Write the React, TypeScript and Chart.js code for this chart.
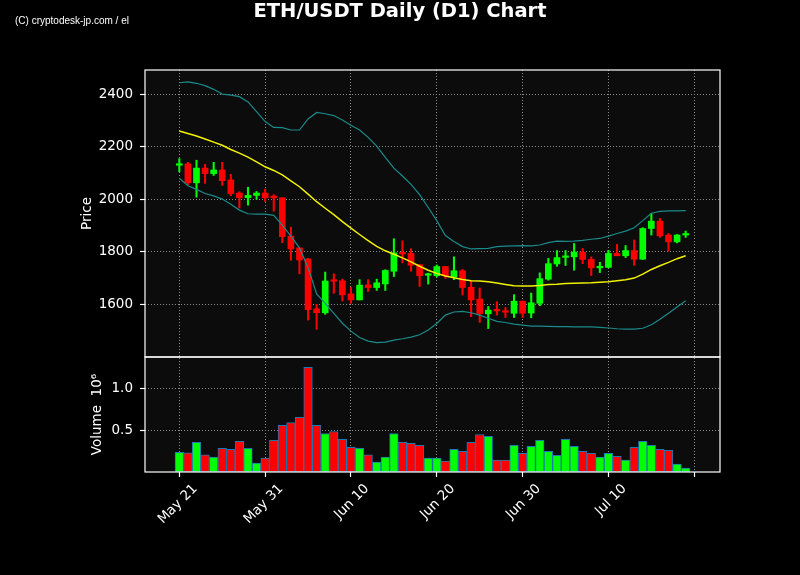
import React, { useEffect, useRef } from "react";
import { Chart, registerables } from "chart.js";

Chart.register(...registerables);

// ---------- data ----------
const dates = [
  "May 21", "May 22", "May 23", "May 24", "May 25", "May 26", "May 27", "May 28", "May 29", "May 30", "May 31",
  "Jun 1", "Jun 2", "Jun 3", "Jun 4", "Jun 5", "Jun 6", "Jun 7", "Jun 8", "Jun 9", "Jun 10",
  "Jun 11", "Jun 12", "Jun 13", "Jun 14", "Jun 15", "Jun 16", "Jun 17", "Jun 18", "Jun 19", "Jun 20",
  "Jun 21", "Jun 22", "Jun 23", "Jun 24", "Jun 25", "Jun 26", "Jun 27", "Jun 28", "Jun 29", "Jun 30",
  "Jul 1", "Jul 2", "Jul 3", "Jul 4", "Jul 5", "Jul 6", "Jul 7", "Jul 8", "Jul 9", "Jul 10",
  "Jul 11", "Jul 12", "Jul 13", "Jul 14", "Jul 15", "Jul 16", "Jul 17", "Jul 18", "Jul 19",
];

const opens = [
  2130, 2135, 2063, 2119, 2098, 2112, 2074, 2024, 2006, 2015, 2024,
  2010, 2006, 1860, 1815, 1773, 1583, 1568, 1690, 1690, 1640,
  1617, 1674, 1664, 1678, 1726, 1798, 1794, 1751, 1711, 1709,
  1744, 1704, 1728, 1665, 1620, 1564, 1580, 1574, 1566, 1612,
  1567, 1604, 1696, 1754, 1779, 1781, 1799, 1771, 1739, 1741,
  1794, 1785, 1805, 1772, 1889, 1917, 1864, 1838, 1864,
];
const highs = [
  2155, 2141, 2149, 2133, 2141, 2141, 2095, 2029, 2046, 2030, 2039,
  2018, 2006, 1894, 1815, 1775, 1600, 1723, 1716, 1696, 1665,
  1694, 1694, 1696, 1732, 1850, 1842, 1812, 1752, 1719, 1750,
  1744, 1781, 1733, 1690, 1662, 1592, 1610, 1588, 1637, 1613,
  1643, 1720, 1775, 1805, 1805, 1832, 1813, 1781, 1760, 1806,
  1828, 1824, 1845, 1892, 1946, 1927, 1870, 1866, 1879,
];
const lows = [
  2105, 2056, 2008, 2061, 2091, 2053, 2014, 1967, 1978, 2000, 1992,
  1955, 1835, 1768, 1716, 1540, 1505, 1562, 1642, 1613, 1604,
  1617, 1649, 1653, 1653, 1706, 1758, 1726, 1668, 1677, 1704,
  1699, 1694, 1636, 1553, 1531, 1508, 1559, 1550, 1550, 1550,
  1549, 1595, 1692, 1745, 1748, 1730, 1755, 1710, 1721, 1739,
  1785, 1778, 1749, 1771, 1864, 1855, 1803, 1834, 1855,
];
const closes = [
  2134, 2063, 2119, 2098, 2112, 2071, 2022, 2006, 2015, 2024, 2006,
  2006, 1858, 1811, 1769, 1580, 1568, 1689, 1688, 1636, 1617,
  1673, 1664, 1682, 1729, 1796, 1792, 1749, 1709, 1714, 1744,
  1709, 1728, 1664, 1617, 1565, 1578, 1575, 1570, 1612, 1566,
  1606, 1698, 1755, 1778, 1782, 1799, 1771, 1739, 1745, 1794,
  1785, 1805, 1772, 1889, 1917, 1861, 1838, 1864, 1868,
];
// volume in units of 10^6
const volumes = [
  0.238, 0.230, 0.357, 0.206, 0.179, 0.286, 0.274, 0.369, 0.286, 0.107, 0.167,
  0.381, 0.563, 0.595, 0.659, 1.262, 0.563, 0.464, 0.488, 0.393, 0.298,
  0.286, 0.206, 0.119, 0.179, 0.464, 0.357, 0.345, 0.321, 0.167, 0.167,
  0.131, 0.274, 0.250, 0.357, 0.452, 0.429, 0.143, 0.143, 0.321, 0.226,
  0.310, 0.381, 0.250, 0.202, 0.393, 0.310, 0.250, 0.226, 0.179, 0.226,
  0.190, 0.143, 0.298, 0.369, 0.321, 0.274, 0.262, 0.095, 0.048,
];
const bbUpper = [
  2444, 2447, 2442, 2433, 2419, 2401, 2397, 2391, 2371, 2334, 2296,
  2274, 2273, 2264, 2264, 2306, 2331, 2326, 2319, 2302, 2282,
  2264, 2236, 2203, 2160, 2119, 2089, 2057, 2018, 1969, 1919,
  1862, 1839, 1820, 1811, 1812, 1813, 1820, 1822, 1823, 1824,
  1823, 1826, 1835, 1841, 1840, 1841, 1844, 1848, 1851, 1860,
  1870, 1879, 1892, 1919, 1947, 1954, 1956, 1956, 1957,
];
const bbMiddle = [
  2260, 2251, 2241, 2230, 2218, 2206, 2190, 2176, 2161, 2143, 2124,
  2110, 2093, 2070, 2048, 2020, 1991, 1966, 1942, 1915, 1890,
  1866, 1843, 1821, 1804, 1791, 1777, 1762, 1745, 1730, 1718,
  1708, 1701, 1695, 1690, 1689, 1686, 1681, 1676, 1671, 1670,
  1670, 1672, 1676, 1677, 1679, 1680, 1681, 1682, 1684, 1686,
  1690, 1694, 1700, 1715, 1733, 1747, 1760, 1774, 1785,
];
const bbLower = [
  2080, 2052, 2038, 2022, 2013, 2001, 1981, 1959, 1945, 1944, 1944,
  1939, 1902, 1860, 1815, 1740, 1640, 1604, 1566, 1528, 1498,
  1474, 1460, 1454, 1456, 1464, 1469, 1475, 1484, 1502, 1527,
  1559, 1571, 1573, 1568, 1559, 1547, 1535, 1531, 1525, 1521,
  1517, 1517, 1516, 1515, 1515, 1514, 1514, 1514, 1512, 1510,
  1507, 1506, 1506, 1509, 1522, 1543, 1566, 1590, 1614,
];

const xTickValues = [0, 10, 20, 30, 40, 50, 60];
const xTickLabels = ["May 21", "May 31", "Jun 10", "Jun 20", "Jun 30", "Jul 10", ""];
const priceTicks = [1600, 1800, 2000, 2200, 2400];
const volumeTicks = [0.5, 1.0];

// ---------- style ----------
const FONT = "'DejaVu Sans', sans-serif";
const UP = "#00ff00";
const DOWN = "#ff0000";
const TEAL = "#1b8a8a";
const YELLOW = "#f2f200";
const GRID = "#8c8c8c";
const PANEL_BG = "#0c0c0c";

const panelPlugin = {
  id: "panels",
  beforeDraw(chart: any) {
    const { ctx, width, height, chartArea } = chart;
    ctx.save();
    ctx.fillStyle = "#000";
    ctx.fillRect(0, 0, width, height);
    ctx.fillStyle = PANEL_BG;
    ctx.fillRect(chartArea.left, chartArea.top, chartArea.right - chartArea.left, chartArea.bottom - chartArea.top);
    ctx.restore();
  },
  afterDraw(chart: any) {
    const { ctx, chartArea } = chart;
    const py = chart.scales.y;
    const vy = chart.scales.yVol;
    ctx.save();
    ctx.strokeStyle = "#ffffff";
    ctx.lineWidth = 1.2;
    ctx.strokeRect(chartArea.left, py.top, chartArea.right - chartArea.left, py.bottom - py.top);
    ctx.strokeRect(chartArea.left, vy.top, chartArea.right - chartArea.left, vy.bottom - vy.top);
    ctx.restore();
  },
};

export default function App() {
  const canvasRef = useRef<HTMLCanvasElement | null>(null);

  useEffect(() => {
    document.body.style.margin = "0";
    document.body.style.background = "#000";
    const canvas = canvasRef.current;
    if (!canvas) return;

    const idx = dates.map((_, i) => i);
    const colors = idx.map((i) => (closes[i] >= opens[i] ? UP : DOWN));

    const tickFont = { family: FONT, size: 13.5 };
    const gridOpts = {
      color: GRID,
      lineWidth: 1,
      offset: false,
      drawTicks: true,
      tickLength: 5,
      tickColor: "#ffffff",
      tickWidth: 1.2,
      tickBorderDash: [],
    };

    const chart = new Chart(canvas, {
      type: "bar",
      data: {
        datasets: [
          {
            type: "line",
            label: "BB Upper",
            data: idx.map((i) => ({ x: i, y: bbUpper[i] })),
            borderColor: TEAL,
            borderWidth: 1.2,
            pointRadius: 0,
            yAxisID: "y",
            order: 0,
          },
          {
            type: "line",
            label: "BB Lower",
            data: idx.map((i) => ({ x: i, y: bbLower[i] })),
            borderColor: TEAL,
            borderWidth: 1.2,
            pointRadius: 0,
            yAxisID: "y",
            order: 0,
          },
          {
            type: "line",
            label: "SMA 20",
            data: idx.map((i) => ({ x: i, y: bbMiddle[i] })),
            borderColor: YELLOW,
            borderWidth: 1.5,
            pointRadius: 0,
            yAxisID: "y",
            order: 0,
          },
          {
            type: "bar",
            label: "Body",
            data: idx.map((i) => ({ x: i, y: [opens[i], closes[i]] })),
            backgroundColor: colors,
            barThickness: 6,
            minBarLength: 1.5,
            grouped: false,
            yAxisID: "y",
            order: 1,
          },
          {
            type: "bar",
            label: "Wick",
            data: idx.map((i) => ({ x: i, y: [lows[i], highs[i]] })),
            backgroundColor: colors,
            barThickness: 1.4,
            grouped: false,
            yAxisID: "y",
            order: 2,
          },
          {
            type: "bar",
            label: "Volume",
            data: idx.map((i) => ({ x: i, y: volumes[i] })),
            backgroundColor: colors,
            borderColor: "#1f77b4",
            borderWidth: 1,
            borderSkipped: false,
            barPercentage: 1,
            categoryPercentage: 1,
            grouped: false,
            yAxisID: "yVol",
            order: 3,
          },
        ] as any,
      },
      options: {
        animation: false,
        responsive: false,
        events: [],
        layout: { padding: { top: 70, right: 80, bottom: 0, left: 0 } },
        plugins: {
          legend: { display: false },
          tooltip: { enabled: false },
          title: { display: false },
        },
        scales: {
          x: {
            type: "linear",
            min: -4,
            max: 63,
            offset: false,
            afterBuildTicks: (s: any) => {
              s.ticks = xTickValues.map((v) => ({ value: v }));
            },
            afterFit: (s: any) => {
              s.height = 103;
            },
            ticks: {
              color: "#ffffff",
              font: tickFont,
              autoSkip: false,
              maxRotation: 45,
              minRotation: 45,
              labelOffset: 16,
              padding: 4,
              callback: (v: any) => {
                const k = xTickValues.indexOf(Number(v));
                return k >= 0 ? xTickLabels[k] : "";
              },
            },
            grid: gridOpts,
            border: { display: false, dash: [1, 2] },
          },
          yVol: {
            type: "linear",
            position: "left",
            stack: "panels",
            stackWeight: 115,
            min: 0,
            max: 1.385,
            afterBuildTicks: (s: any) => {
              s.ticks = volumeTicks.map((v) => ({ value: v }));
            },
            afterFit: (s: any) => {
              s.width = 145;
            },
            ticks: {
              color: "#ffffff",
              font: tickFont,
              padding: 7,
              callback: (v: any) => Number(v).toFixed(1),
            },
            grid: gridOpts,
            border: { display: false, dash: [1, 2] },
            title: {
              display: true,
              text: "Volume  10\u2076",
              color: "#ffffff",
              font: tickFont,
              padding: { top: 89, bottom: 0 },
            },
          },
          y: {
            type: "linear",
            position: "left",
            stack: "panels",
            stackWeight: 287,
            min: 1399.5,
            max: 2492.6,
            afterBuildTicks: (s: any) => {
              s.ticks = priceTicks.map((v) => ({ value: v }));
            },
            afterFit: (s: any) => {
              s.width = 145;
            },
            ticks: {
              color: "#ffffff",
              font: tickFont,
              padding: 7,
              callback: (v: any) => String(v),
            },
            grid: gridOpts,
            border: { display: false, dash: [1, 2] },
            title: {
              display: true,
              text: "Price",
              color: "#ffffff",
              font: tickFont,
              padding: { top: 79, bottom: 0 },
            },
          },
        },
      } as any,
      plugins: [panelPlugin],
    });

    return () => {
      chart.destroy();
    };
  }, []);

  return (
    <div style={{ position: "relative", width: 800, height: 575, background: "#000", overflow: "hidden" }}>
      <canvas ref={canvasRef} width={800} height={575} style={{ display: "block", width: 800, height: 575 }} />
      <div
        style={{
          position: "absolute",
          left: 0,
          top: 1,
          width: 800,
          textAlign: "center",
          color: "#fff",
          fontFamily: FONT,
          fontWeight: "bold",
          fontSize: "19.5px",
          lineHeight: "19.5px",
          whiteSpace: "nowrap",
        }}
      >
        ETH/USDT Daily (D1) Chart
      </div>
      <div
        style={{
          position: "absolute",
          left: 15,
          top: 15,
          color: "#fff",
          fontFamily: "'Liberation Sans', Arial, sans-serif",
          fontSize: "10px",
          lineHeight: "12px",
          whiteSpace: "nowrap",
        }}
      >
        (C) cryptodesk-jp.com / el
      </div>
    </div>
  );
}
